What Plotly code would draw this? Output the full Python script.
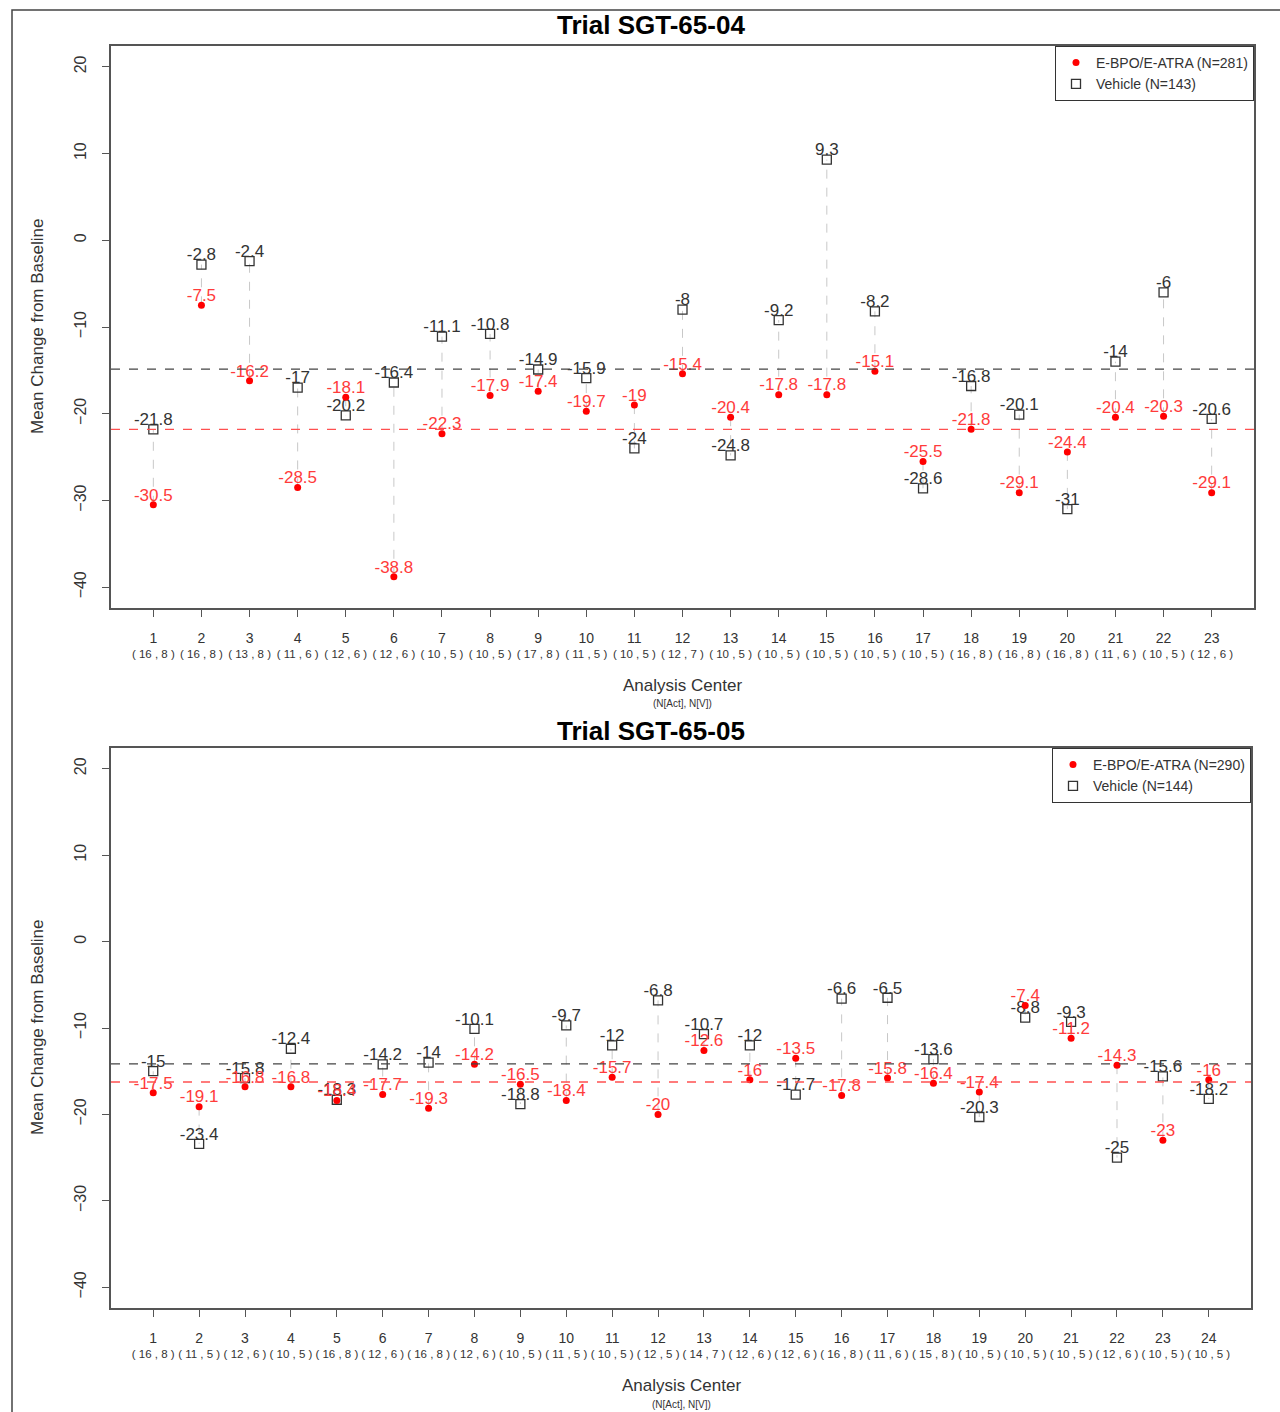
import plotly.graph_objects as go

W, H = 1280, 1412

# ---------------- Data ----------------
centers_04 = list(range(1, 24))
n_act_04 = [16, 16, 13, 11, 12, 12, 10, 10, 17, 11, 10, 12, 10, 10, 10, 10, 10, 16, 16, 16, 11, 10, 12]
n_veh_04 = [8, 8, 8, 6, 6, 6, 5, 5, 8, 5, 5, 7, 5, 5, 5, 5, 5, 8, 8, 8, 6, 5, 6]
active_04 = [-30.5, -7.5, -16.2, -28.5, -18.1, -38.8, -22.3, -17.9, -17.4, -19.7, -19, -15.4,
             -20.4, -17.8, -17.8, -15.1, -25.5, -21.8, -29.1, -24.4, -20.4, -20.3, -29.1]
vehicle_04 = [-21.8, -2.8, -2.4, -17, -20.2, -16.4, -11.1, -10.8, -14.9, -15.9, -24, -8,
              -24.8, -9.2, 9.3, -8.2, -28.6, -16.8, -20.1, -31, -14, -6, -20.6]
mean_act_04 = -21.8
mean_veh_04 = -14.85

centers_05 = list(range(1, 25))
n_act_05 = [16, 11, 12, 10, 16, 12, 16, 12, 10, 11, 10, 12, 14, 12, 12, 16, 11, 15, 10, 10, 10, 12, 10, 10]
n_veh_05 = [8, 5, 6, 5, 8, 6, 8, 6, 5, 5, 5, 5, 7, 6, 6, 8, 6, 8, 5, 5, 5, 6, 5, 5]
active_05 = [-17.5, -19.1, -16.8, -16.8, -18.4, -17.7, -19.3, -14.2, -16.5, -18.4, -15.7, -20,
             -12.6, -16, -13.5, -17.8, -15.8, -16.4, -17.4, -7.4, -11.2, -14.3, -23, -16]
vehicle_05 = [-15, -23.4, -15.8, -12.4, -18.3, -14.2, -14, -10.1, -18.8, -9.7, -12, -6.8,
              -10.7, -12, -17.7, -6.6, -6.5, -13.6, -20.3, -8.8, -9.3, -25, -15.6, -18.2]
mean_act_05 = -16.25
mean_veh_05 = -14.15

legend_04 = ["E-BPO/E-ATRA (N=281)", "Vehicle (N=143)"]
legend_05 = ["E-BPO/E-ATRA (N=290)", "Vehicle (N=144)"]
titles = ["Trial SGT-65-04", "Trial SGT-65-05"]
y_ticks = [20, 10, 0, -10, -20, -30, -40]

FONT = "Liberation Sans, Arial, sans-serif"
RED = "#ff0000"
RED_TXT = "#ff3b3b"
BLK = "#333333"

fig = go.Figure()


def fmt(v):
    return f"{v:g}"


def add_panel(centers, act, veh, mact, mveh, leg, xa, ya, legname):
    # connectors
    cx, cy = [], []
    for c, a, v in zip(centers, act, veh):
        cx += [c, c, None]
        cy += [a, v, None]
    fig.add_trace(go.Scatter(x=cx, y=cy, mode="lines", xaxis=xa, yaxis=ya,
                             line=dict(color="#c8c8c8", width=1, dash="dash"),
                             showlegend=False, hoverinfo="skip"))
    # vehicle markers
    fig.add_trace(go.Scatter(x=centers, y=veh, mode="markers", xaxis=xa, yaxis=ya,
                             name=leg[1], legend=legname, legendrank=2,
                             marker=dict(symbol="square-open", size=9, color=BLK,
                                         line=dict(width=1.3, color=BLK))))
    fig.add_trace(go.Scatter(x=centers, y=veh, mode="text", xaxis=xa, yaxis=ya,
                             text=[fmt(v) for v in veh], textposition="top center",
                             textfont=dict(family=FONT, size=17, color=BLK),
                             showlegend=False, hoverinfo="skip"))
    # active markers
    fig.add_trace(go.Scatter(x=centers, y=act, mode="markers", xaxis=xa, yaxis=ya,
                             name=leg[0], legend=legname, legendrank=1,
                             marker=dict(symbol="circle", size=7, color=RED)))
    fig.add_trace(go.Scatter(x=centers, y=act, mode="text", xaxis=xa, yaxis=ya,
                             text=[fmt(v) for v in act], textposition="top center",
                             textfont=dict(family=FONT, size=17, color=RED_TXT),
                             showlegend=False, hoverinfo="skip"))
    # mean lines
    fig.add_shape(type="line", xref=f"{xa} domain", yref=ya, x0=0, x1=1, y0=mveh, y1=mveh,
                  line=dict(color="#444444", width=1.3, dash="dash"))
    fig.add_shape(type="line", xref=f"{xa} domain", yref=ya, x0=0, x1=1, y0=mact, y1=mact,
                  line=dict(color="#ff5050", width=1.3, dash="dash"))


add_panel(centers_04, active_04, vehicle_04, mean_act_04, mean_veh_04, legend_04, "x", "y", "legend")
add_panel(centers_05, active_05, vehicle_05, mean_act_05, mean_veh_05, legend_05, "x2", "y2", "legend2")


def px_x(p):
    return p / W


def px_y(p):
    return 1 - p / H


def ticktext(centers, na, nv):
    return [f"<span style='font-size:14px'>{c}</span><br>( {a} , {v} )" for c, a, v in zip(centers, na, nv)]


axis_common = dict(showgrid=False, zeroline=False, showline=True, mirror=True,
                   linecolor="#555555", linewidth=1.5, ticks="outside", ticklen=7,
                   tickcolor="#555555", tickwidth=1.2)

legend_common = dict(xanchor="right", yanchor="top", bgcolor="white", bordercolor="#333333",
                     borderwidth=1, font=dict(size=14, color=BLK), tracegroupgap=0,
                     itemsizing="trace", itemwidth=30)

fig.update_layout(
    width=W, height=H,
    margin=dict(l=0, r=0, t=0, b=0),
    paper_bgcolor="white", plot_bgcolor="white",
    font=dict(family=FONT, color=BLK),
    xaxis=dict(domain=[px_x(111), px_x(1254)], range=[0.12, 23.88], anchor="y",
               tickmode="array", tickvals=centers_04, ticklabelstandoff=12,
               ticktext=ticktext(centers_04, n_act_04, n_veh_04),
               tickfont=dict(size=11.5, color=BLK), **axis_common),
    yaxis=dict(domain=[px_y(608), px_y(46)], range=[-42.4, 22.4], anchor="x",
               tickmode="array", tickvals=y_ticks, tickangle=-90, ticklabelstandoff=10,
               tickfont=dict(size=16, color=BLK), **axis_common),
    xaxis2=dict(domain=[px_x(111), px_x(1251)], range=[0.08, 24.92], anchor="y2",
                tickmode="array", tickvals=centers_05, ticklabelstandoff=12,
                ticktext=ticktext(centers_05, n_act_05, n_veh_05),
                tickfont=dict(size=11.5, color=BLK), **axis_common),
    yaxis2=dict(domain=[px_y(1308), px_y(748)], range=[-42.4, 22.4], anchor="x2",
                tickmode="array", tickvals=y_ticks, tickangle=-90, ticklabelstandoff=10,
                tickfont=dict(size=16, color=BLK), **axis_common),
    legend=dict(x=px_x(1254), y=px_y(46), **legend_common),
    legend2=dict(x=px_x(1251), y=px_y(748), **legend_common),
)

# outer frame
fig.add_shape(type="rect", xref="paper", yref="paper", x0=px_x(12), x1=1.02, y0=-0.02, y1=px_y(10),
              line=dict(color="#444444", width=1.5), layer="below")

annotations = []
for title, ty, cx, ay, sy, ycen in [
    (titles[0], 25, (111 + 1254) / 2, 685, 704, (46 + 608) / 2),
    (titles[1], 731, (111 + 1251) / 2, 1385, 1404, (748 + 1308) / 2),
]:
    annotations.append(dict(text=f"<b>{title}</b>", xref="paper", yref="paper",
                            x=px_x(651), y=px_y(ty), xanchor="center", yanchor="middle",
                            showarrow=False, font=dict(size=26, color="black")))
    annotations.append(dict(text="Analysis Center", xref="paper", yref="paper",
                            x=px_x(cx), y=px_y(ay), xanchor="center", yanchor="middle",
                            showarrow=False, font=dict(size=17, color=BLK)))
    annotations.append(dict(text="(N[Act], N[V])", xref="paper", yref="paper",
                            x=px_x(cx), y=px_y(sy), xanchor="center", yanchor="middle",
                            showarrow=False, font=dict(size=10, color=BLK)))
    annotations.append(dict(text="Mean Change from Baseline", xref="paper", yref="paper",
                            x=px_x(37), y=px_y(ycen), xanchor="center", yanchor="middle",
                            textangle=-90, showarrow=False, font=dict(size=17, color=BLK)))
fig.update_layout(annotations=annotations)

fig.write_html("out.html")
